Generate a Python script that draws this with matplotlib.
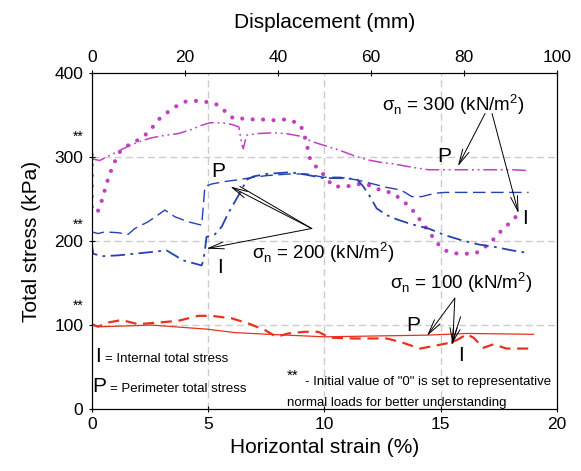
import numpy as np
import matplotlib
matplotlib.use('Agg')
from matplotlib import pyplot as plt

plt.rcParams['font.family'] = ['Liberation Sans', 'DejaVu Sans']
plt.rcParams['mathtext.fontset'] = 'custom'
plt.rcParams['mathtext.rm'] = 'Liberation Sans'

# sigma_n = 300, internal (dotted)
x300i = [0, 0, 0, 0.24, 0.44, 0.6, 0.77, 0.96, 1.2, 1.56, 1.85, 2.42, 2.88, 3.14, 3.43,
         3.71, 4.0, 4.29, 4.57, 4.86, 5.15, 5.43, 5.65, 5.89, 6.22, 6.44, 6.72, 7.23,
         7.8, 8.37, 8.92, 9.09, 9.23, 9.38, 9.59, 9.81, 10.38, 10.67, 10.95, 11.24,
         11.53, 11.81, 12.1, 12.39, 12.67, 12.96, 13.22, 13.49, 13.78, 14.0, 14.25,
         14.46, 14.68, 14.9, 15.18, 15.47, 15.76, 16.04, 16.33, 16.62, 16.9, 17.19,
         17.45, 17.73, 17.98, 18.19, 18.41]
y300i = [303, 270, 239, 234, 249, 265, 280, 293, 306, 314, 318, 329, 345, 351, 357,
         362, 366, 367, 367, 366, 365, 362, 357, 349, 345, 346, 345, 345,
         344, 345, 340, 331, 316, 298, 290, 284, 265, 265, 265, 267,
         268, 268, 264, 261, 259, 257, 251, 245, 237, 229, 220,
         212, 204, 196, 189, 186, 185, 185, 185, 187, 193, 200,
         208, 216, 222, 228, 234]

# sigma_n = 300, perimeter (dash-dot-dot)
x300p = [0, 0.34, 0.7, 1.13, 1.56, 1.99, 2.56, 3.14, 3.71, 4.29, 4.72, 5.08, 5.58, 6.01,
         6.32, 6.44, 6.51, 6.65, 7.08, 7.8, 8.37, 8.95, 9.52, 10.1, 10.67, 11.24, 11.81,
         12.39, 12.96, 13.75, 14.47, 15.18, 15.76, 16.62, 17.33, 18.05, 18.77]
y300p = [298, 296, 301, 307, 313, 318, 323, 326, 328, 333, 338, 341, 341, 339,
         336, 316, 310, 326, 328, 329, 328, 325, 318, 313, 308, 302, 297,
         294, 292, 288, 285, 285, 285, 285, 285, 285, 284]

# sigma_n = 200, perimeter (dashed)
x200p = [0, 0.27, 0.56, 1.13, 1.56, 1.85, 2.42, 3.14, 3.57, 4.14, 4.72, 4.79, 4.86, 5.15,
         5.72, 6.29, 6.94, 7.51, 8.52, 9.23, 9.95, 10.67, 11.38, 12.1, 12.67, 13.25,
         13.46, 13.75, 14.18, 14.75, 15.18, 16.62, 18.77]
y200p = [211, 209, 211, 210, 208, 215, 223, 237, 229, 223, 219, 241, 265, 268,
         271, 273, 276, 278, 280, 280, 276, 276, 273, 268, 264, 261,
         258, 253, 253, 257, 258, 258, 258]

# sigma_n = 200, internal (dash-dot)
x200i = [0, 0.06, 0.42, 1.13, 1.85, 2.56, 3.21, 3.93, 4.72, 4.79, 4.86, 4.93, 5.29, 5.58,
         5.86, 6.15, 6.44, 6.65, 6.94, 7.51, 8.52, 9.23, 9.95, 10.67, 11.38, 11.67,
         11.96, 12.24, 12.67, 13.1, 13.75, 14.47, 15.18, 15.9, 16.62, 17.33, 18.05, 18.7]
y200i = [197, 185, 182, 183, 185, 187, 189, 177, 171, 177, 189, 205, 208, 217,
         233, 247, 261, 273, 277, 280, 282, 279, 275, 275, 274, 265,
         253, 239, 231, 226, 220, 215, 207, 201, 196, 193, 189, 186]

# sigma_n = 100, perimeter (solid)
x100p = [0, 0.42, 2.56, 5.0, 6.15, 7.58, 10.0, 14.4, 16.12, 18.98]
y100p = [100, 98, 100, 95, 91, 89, 86, 88, 90, 89]

# sigma_n = 100, internal (dashed)
x100i = [0, 0.27, 0.7, 1.28, 1.99, 2.85, 3.71, 4.57, 5.15, 6.01, 6.72, 7.44, 7.94, 8.44,
         9.16, 9.73, 10.24, 11.24, 12.67, 13.25, 14.11, 14.68, 15.4, 15.68, 16.12,
         16.4, 16.83, 17.26, 17.83, 18.98]
y100i = [101, 98, 103, 106, 101, 103, 105, 111, 111, 108, 102, 94, 86, 90,
         92, 92, 85, 84, 84, 80, 72, 75, 79, 82, 89,
         85, 73, 77, 72, 72]

magenta = '#c23fc2'
blue = '#2442b0'
red = '#e8321e'

fig = plt.figure(figsize=(5.81, 4.71), dpi=100)
ax = fig.add_axes([0.158, 0.1316, 0.801, 0.713])

ax.plot(x300i, y300i, color=magenta, lw=3.0, linestyle=(0, (0.01, 2.5)),
        dash_capstyle='round')
ax.plot(x300p, y300p, color=magenta, lw=1.1, linestyle=(0, (9, 2.5, 1.2, 2.5, 1.2, 2.5)))
ax.plot(x200p, y200p, color=blue, lw=1.0, linestyle=(0, (9, 4)))
ax.plot(x200i, y200i, color=blue, lw=1.3, linestyle=(0, (8, 3, 1.5, 3)))
ax.plot(x100p, y100p, color=red, lw=0.9)
ax.plot(x100i, y100i, color=red, lw=1.6, linestyle=(0, (5, 3)))

ax.set_xlim(0, 20)
ax.set_ylim(0, 400)
ax.set_xticks([0, 5, 10, 15, 20])
ax.set_yticks([0, 100, 200, 300, 400])
ax.tick_params(direction='inout', length=5, labelsize=12.5, width=0.8)
for y in [100, 200, 300]:
    ax.axhline(y, color='#cccccc', lw=1, linestyle=(0, (5, 3)), zorder=0)
for x in [5, 10, 15]:
    ax.axvline(x, color='#cccccc', lw=1, linestyle=(0, (5, 3)), zorder=0)
ax.set_xlabel('Horizontal strain (%)', fontsize=15, labelpad=4)
ax.set_ylabel('Total stress (kPa)', fontsize=15, labelpad=10)

top = ax.twiny()
top.set_xlim(0, 100)
top.set_xticks([0, 20, 40, 60, 80, 100])
top.tick_params(direction='inout', length=5, labelsize=12.5, width=0.8)
top.set_xlabel('Displacement (mm)', fontsize=15, labelpad=16)

# "**" markers for initial values
for y in [324, 220, 123]:
    ax.text(-0.35, y, '**', fontsize=10, ha='right', va='center', clip_on=False)

arrow = dict(arrowstyle='->,head_length=1.1,head_width=0.25', lw=0.7, color='black',
             shrinkA=0, shrinkB=0)

# sigma_n = 200
ax.text(6.9, 186, r'σ$_\mathregular{n}$ = 200 (kN/m$^\mathregular{2}$)', fontsize=13.5,
        ha='left', va='center')
ax.text(5.15, 283, 'P', fontsize=15, ha='left', va='center')
ax.text(5.5, 168, 'I', fontsize=15, ha='center', va='center')
ax.annotate('', xy=(5.95, 265), xytext=(9.45, 215), arrowprops=arrow)
ax.annotate('', xy=(4.93, 191), xytext=(9.45, 215), arrowprops=arrow)
ax.plot([6.37, 9.45], [265, 215], color='black', lw=0.7)

# sigma_n = 300
ax.text(15.53, 362, r'σ$_\mathregular{n}$ = 300 (kN/m$^\mathregular{2}$)', fontsize=13.5,
        ha='center', va='center')
ax.text(14.85, 301, 'P', fontsize=15, ha='left', va='center')
ax.text(18.5, 227, 'I', fontsize=15, ha='left', va='center')
ax.annotate('', xy=(15.73, 289), xytext=(16.9, 352), arrowprops=arrow)
ax.annotate('', xy=(18.34, 233), xytext=(17.2, 352), arrowprops=arrow)

# sigma_n = 100
ax.text(15.87, 151, r'σ$_\mathregular{n}$ = 100 (kN/m$^\mathregular{2}$)', fontsize=13.5,
        ha='center', va='center')
ax.text(13.5, 100, 'P', fontsize=15, ha='left', va='center')
ax.text(15.85, 64, 'I', fontsize=15, ha='center', va='center')
ax.annotate('', xy=(14.4, 87), xytext=(15.6, 132), arrowprops=arrow)
ax.annotate('', xy=(15.51, 76), xytext=(15.6, 132), arrowprops=arrow)
ax.annotate('', xy=(15.45, 76), xytext=(15.85, 110), arrowprops=arrow)

# legend notes
ax.text(0.15, 63, 'I', fontsize=15, ha='left', va='center')
ax.text(0.55, 60, '= Internal total stress', fontsize=9.5, ha='left', va='center')
ax.text(0.02, 27, 'P', fontsize=15, ha='left', va='center')
ax.text(0.8, 24, '= Perimeter total stress', fontsize=9.5, ha='left', va='center')
ax.text(8.4, 40, '**', fontsize=11, ha='left', va='center')
ax.text(9.15, 32, '- Initial value of "0" is set to representative', fontsize=9.5,
        ha='left', va='center')
ax.text(8.4, 7, 'normal loads for better understanding', fontsize=9.5,
        ha='left', va='center')

fig.savefig('out.png', dpi=100)
